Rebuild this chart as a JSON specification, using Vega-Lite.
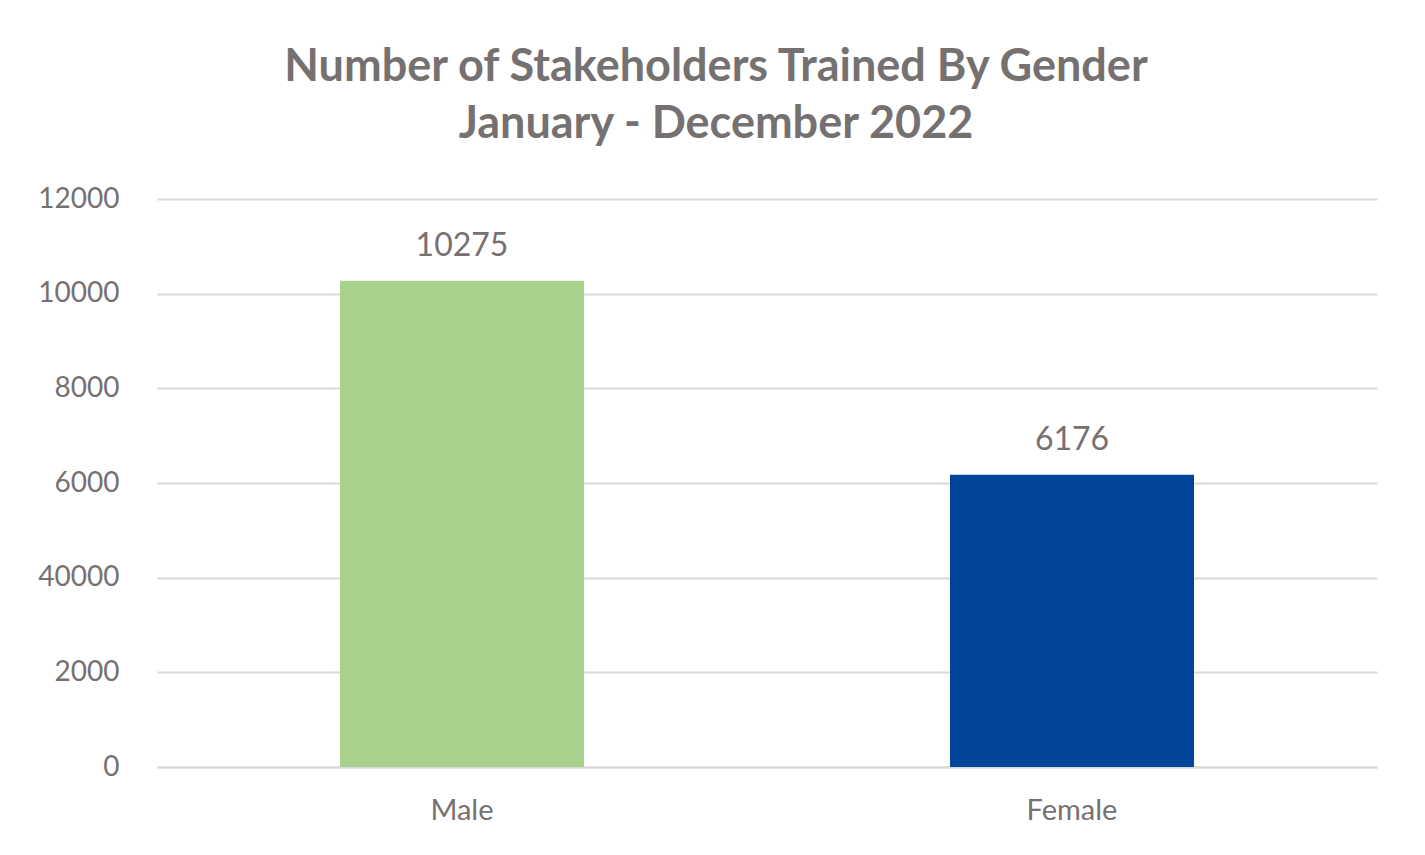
{
  "$schema": "https://vega.github.io/schema/vega-lite/v6.json",
  "autosize": {"type": "none"},
  "width": 1220,
  "height": 568,
  "padding": {"left": 157, "top": 199, "right": 48, "bottom": 88},
  "background": "white",
  "config": {"view": {"stroke": null}, "font": "Lato"},
  "title": {
    "text": ["Number of Stakeholders Trained By Gender", "January - December 2022"],
    "font": "Lato",
    "fontSize": 45,
    "fontWeight": "bold",
    "color": "#767171",
    "anchor": "middle",
    "lineHeight": 57,
    "offset": 38,
    "dx": -51
  },
  "data": {
    "values": [
      {"gender": "Male", "count": 10275},
      {"gender": "Female", "count": 6176}
    ]
  },
  "encoding": {
    "x": {
      "field": "gender",
      "type": "nominal",
      "sort": ["Male", "Female"],
      "scale": {"paddingInner": 0.6, "paddingOuter": 0.3},
      "axis": {
        "title": null,
        "labelAngle": 0,
        "labelFont": "Lato",
        "labelFontSize": 29,
        "labelColor": "#767171",
        "labelPadding": 29,
        "ticks": false,
        "domain": true,
        "domainColor": "#d9d9d9",
        "domainWidth": 2
      }
    },
    "y": {
      "field": "count",
      "type": "quantitative",
      "scale": {"domain": [0, 12000]},
      "axis": {
        "title": null,
        "values": [0, 2000, 4000, 6000, 8000, 10000, 12000],
        "format": "d",
        "labelExpr": "datum.value == 4000 ? '40000' : datum.label",
        "labelFont": "Lato",
        "labelFontSize": 28,
        "labelColor": "#767171",
        "labelPadding": 38,
        "ticks": false,
        "domain": false,
        "grid": true,
        "gridColor": "#d9d9d9",
        "gridWidth": 2
      }
    }
  },
  "layer": [
    {
      "mark": {"type": "bar"},
      "encoding": {
        "color": {
          "field": "gender",
          "type": "nominal",
          "scale": {"domain": ["Male", "Female"], "range": ["#a9d18e", "#00459a"]},
          "legend": null
        }
      }
    },
    {
      "mark": {"type": "text", "dy": -35, "font": "Lato", "fontSize": 32, "color": "#767171"},
      "encoding": {"text": {"field": "count", "type": "quantitative", "format": "d"}}
    }
  ]
}
